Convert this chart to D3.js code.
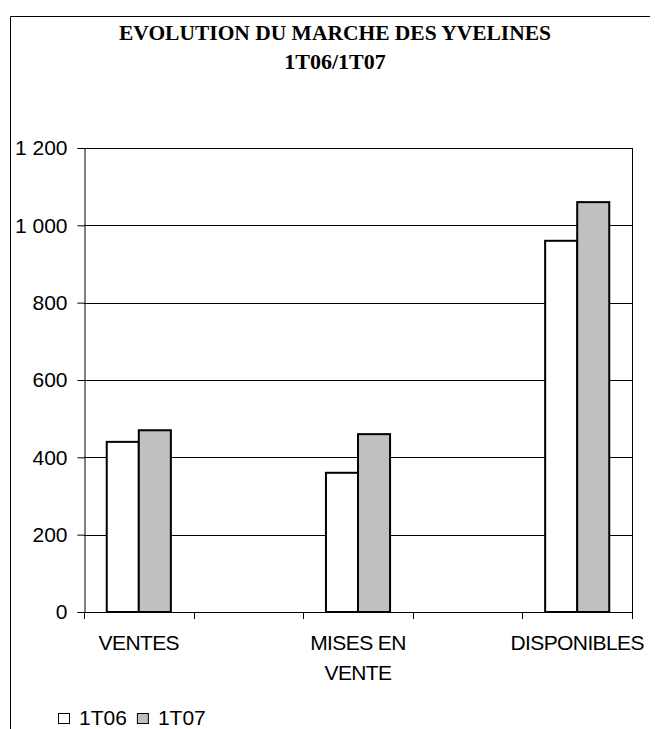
<!DOCTYPE html>
<html>
<head>
<meta charset="utf-8">
<script src="https://cdn.jsdelivr.net/npm/d3@7"></script>
<style>
  html, body { margin: 0; padding: 0; background: #fff; }
  svg { display: block; }
  text { font-family: "Liberation Sans", Arial, sans-serif; fill: #000; }
  .title { font-family: "Liberation Serif", "Times New Roman", serif; font-weight: bold; }
</style>
</head>
<body>
<svg id="chart" width="655" height="729"></svg>
<script>
// Categories (blank slots keep the gaps between groups)
const categories = ["VENTES", "", "MISES EN VENTE", "", "DISPONIBLES"];
const seriesNames = ["1T06", "1T07"];
const values1T06 = [440, null, 360, null, 960];
const values1T07 = [470, null, 460, null, 1060];
const yTicks = [0, 200, 400, 600, 800, 1000, 1200];
const titleLines = ["EVOLUTION DU MARCHE DES YVELINES", "1T06/1T07"];

const seriesValues = [values1T06, values1T07];
const seriesFill = ["#ffffff", "#c0c0c0"];

const W = 655, H = 729;
const plot = { left: 84, right: 632, top: 148, bottom: 612 };
const FONT = 21;

const svg = d3.select("#chart");

// outer frame (top and left edges)
svg.append("path")
  .attr("d", `M10.5,${H} V16.5 H650`)
  .attr("fill", "none")
  .attr("stroke", "#000")
  .attr("stroke-width", 1);

// title
svg.selectAll("text.title")
  .data(titleLines)
  .join("text")
  .attr("class", "title")
  .attr("x", 335)
  .attr("y", (d, i) => 40 + i * 29)
  .attr("text-anchor", "middle")
  .attr("font-size", 22)
  .each(function (d, i) {
    if (i === 0) d3.select(this).attr("textLength", 432).attr("lengthAdjust", "spacingAndGlyphs");
  })
  .text(d => d);

const x0 = d3.scaleBand()
  .domain(d3.range(categories.length))
  .range([plot.left, plot.right])
  .paddingInner(0).paddingOuter(0);

const bw = x0.bandwidth();
const groupW = bw * 0.585;
const x1 = d3.scaleBand()
  .domain(seriesNames)
  .range([(bw - groupW) / 2, (bw + groupW) / 2])
  .padding(0);

const y = d3.scaleLinear()
  .domain([0, 1200])
  .range([plot.bottom, plot.top]);

const locale = d3.formatLocale({ decimal: ",", thousands: " ", grouping: [3], currency: ["", " €"] });
const fmt = locale.format(",d");

// gridlines
svg.append("g")
  .selectAll("line")
  .data(yTicks.filter(v => v > 0))
  .join("line")
  .attr("x1", plot.left).attr("x2", plot.right)
  .attr("y1", d => Math.round(y(d)) + 0.5)
  .attr("y2", d => Math.round(y(d)) + 0.5)
  .attr("stroke", "#000")
  .attr("stroke-width", 1);

// right plot border
svg.append("line")
  .attr("x1", plot.right + 0.5).attr("x2", plot.right + 0.5)
  .attr("y1", plot.top).attr("y2", plot.bottom)
  .attr("stroke", "#000");

// bars
const barData = [];
categories.forEach((c, i) => {
  seriesNames.forEach((s, j) => {
    const v = seriesValues[j][i];
    if (v != null) barData.push({ i, s, v, fill: seriesFill[j] });
  });
});

svg.append("g")
  .selectAll("rect")
  .data(barData)
  .join("rect")
  .attr("x", d => x0(d.i) + x1(d.s))
  .attr("y", d => y(d.v))
  .attr("width", x1.bandwidth())
  .attr("height", d => y(0) - y(d.v))
  .attr("fill", d => d.fill)
  .attr("stroke", "#000")
  .attr("stroke-width", 2);

// y axis
const yAxis = svg.append("g")
  .attr("transform", `translate(${plot.left + 0.5},0)`)
  .call(d3.axisLeft(y).tickValues(yTicks).tickFormat(fmt).tickSize(7).tickPadding(10));
yAxis.select(".domain").attr("stroke", "#000");
yAxis.selectAll(".tick line").attr("stroke", "#000");
yAxis.selectAll(".tick text")
  .attr("font-size", FONT)
  .attr("font-family", "Liberation Sans, Arial, sans-serif")
  .attr("fill", "#000");

// x axis: line, ticks at band boundaries, labels centred in bands
const xAxis = svg.append("g");
xAxis.append("line")
  .attr("x1", plot.left).attr("x2", plot.right + 1)
  .attr("y1", y(0) + 0.5).attr("y2", y(0) + 0.5)
  .attr("stroke", "#000");
const boundaries = d3.range(categories.length + 1).map(i => plot.left + i * bw);
xAxis.selectAll("line.tk")
  .data(boundaries)
  .join("line")
  .attr("class", "tk")
  .attr("x1", d => Math.round(d) + 0.5).attr("x2", d => Math.round(d) + 0.5)
  .attr("y1", y(0)).attr("y2", y(0) + 7)
  .attr("stroke", "#000");

const labels = xAxis.selectAll("text.cat")
  .data(categories.map((c, i) => ({ c, i })).filter(d => d.c))
  .join("text")
  .attr("class", "cat")
  .attr("text-anchor", "middle")
  .attr("font-size", FONT)
  .attr("letter-spacing", -0.6)
  .attr("x", d => x0(d.i) + bw / 2)
  .attr("y", 650);

// wrap category labels to the band width
labels.each(function (d) {
  const t = d3.select(this);
  const words = d.c.split(" ");
  const lines = [];
  let line = [];
  const probe = t.append("tspan");
  words.forEach(w => {
    const trial = line.concat(w).join(" ");
    probe.text(trial);
    if (line.length && probe.node().getComputedTextLength() > bw) {
      lines.push(line.join(" "));
      line = [w];
    } else {
      line.push(w);
    }
  });
  lines.push(line.join(" "));
  probe.remove();
  lines.forEach((l, k) => {
    t.append("tspan")
      .attr("x", x0(d.i) + bw / 2)
      .attr("dy", k === 0 ? 0 : 30)
      .text(l);
  });
});

// legend
const legend = svg.append("g").attr("transform", "translate(58,725)");
let lx = 0;
seriesNames.forEach((s, j) => {
  legend.append("rect")
    .attr("x", lx + 0.5).attr("y", -11.5)
    .attr("width", 11).attr("height", 10)
    .attr("fill", seriesFill[j])
    .attr("stroke", "#000");
  const txt = legend.append("text")
    .attr("x", lx + 21).attr("y", 0)
    .attr("font-size", FONT)
    .text(s);
  lx += 21 + txt.node().getComputedTextLength() + 10;
});
</script>
</body>
</html>
